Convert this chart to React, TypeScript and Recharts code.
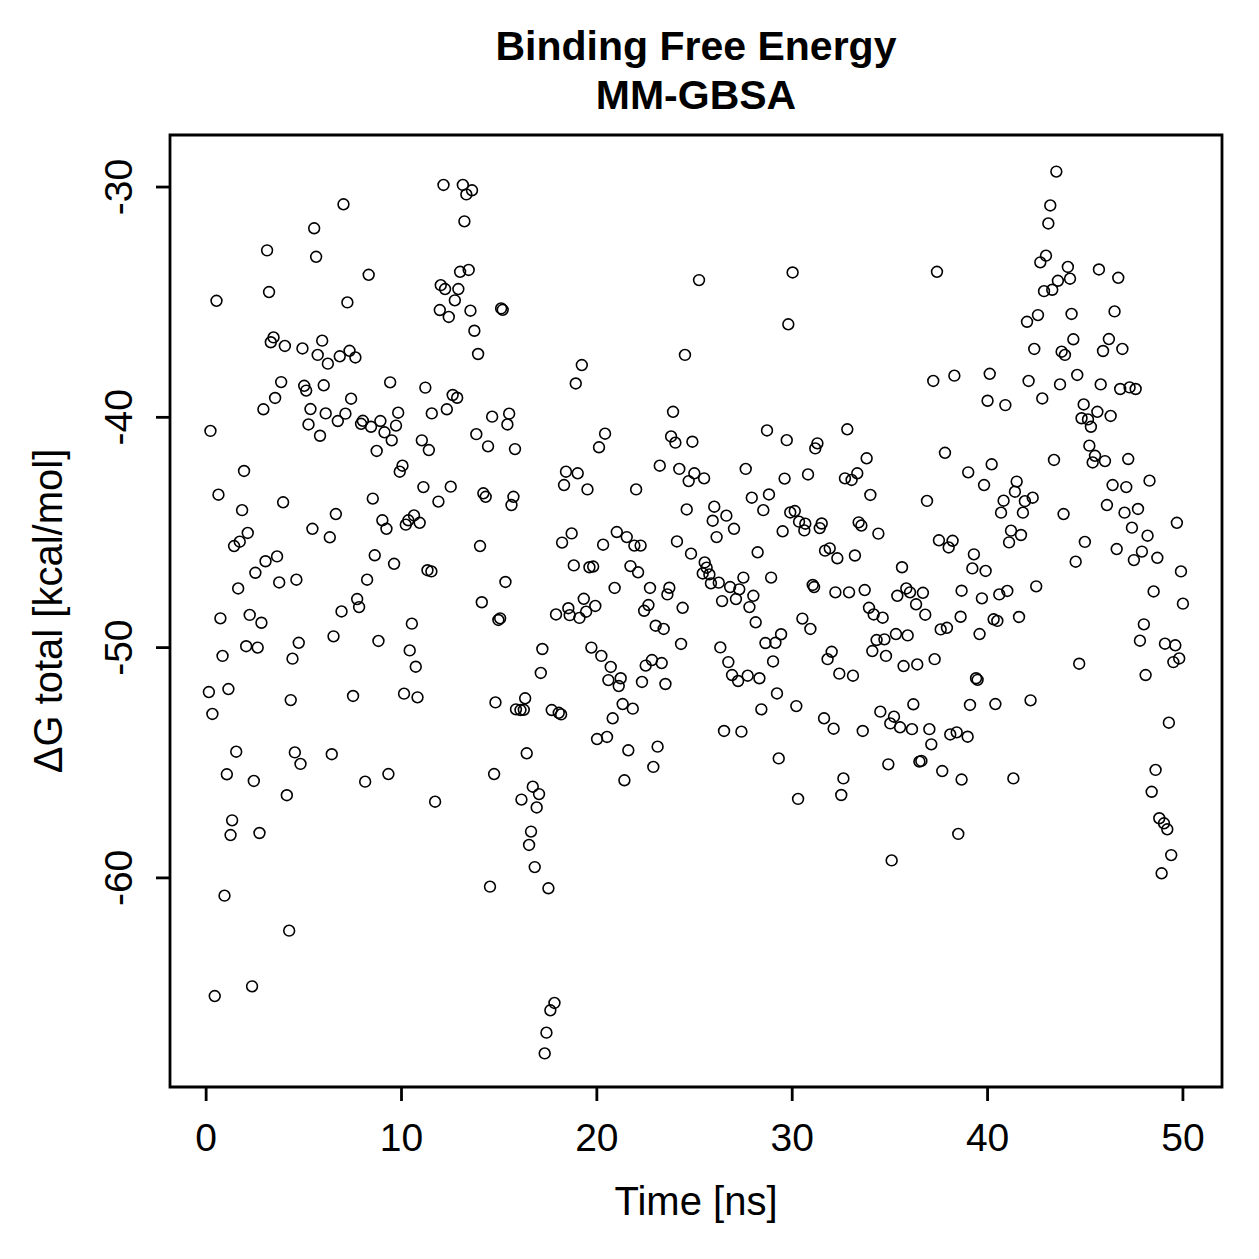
import { ScatterChart, Scatter, XAxis, YAxis, ReferenceArea } from 'recharts'

// [time (ns), ΔG total (kcal/mol)] per MD snapshot, grouped by time span
const run0to12ns: [number, number][] = [
  [7.03, -30.75], [5.53, -31.79], [3.12, -32.75], [5.63, -33.03], [8.32, -33.81], [0.53, -34.94], [3.22, -34.56], [7.23, -35.01],
  [3.45, -36.53], [3.31, -36.74], [4.03, -36.9], [4.93, -37.01], [5.94, -36.67], [5.71, -37.29], [6.23, -37.67], [6.84, -37.35],
  [7.34, -37.11], [7.64, -37.4], [3.84, -38.47], [5.02, -38.63], [5.12, -38.84], [6.02, -38.61], [9.42, -38.48], [11.22, -38.71],
  [3.53, -39.16], [2.93, -39.65], [7.42, -39.19], [5.34, -39.64], [6.12, -39.83], [7.13, -39.84], [9.83, -39.8], [6.74, -40.16],
  [8.02, -40.15], [7.93, -40.28], [8.44, -40.41], [8.92, -40.16], [9.72, -40.36], [9.13, -40.65], [9.5, -41.0], [5.24, -40.31],
  [5.83, -40.8], [0.22, -40.59], [11.04, -41.0], [8.73, -41.46], [11.4, -41.42], [11.55, -39.83],
  [1.94, -42.33], [0.63, -43.36], [3.94, -43.69], [1.84, -44.03], [2.13, -45.02], [1.72, -45.4], [1.43, -45.59], [3.04, -46.25],
  [3.63, -46.04], [2.52, -46.75], [1.64, -47.43], [3.74, -47.17], [4.62, -47.05], [0.73, -48.73], [2.23, -48.58], [2.83, -48.92],
  [2.05, -49.94], [2.64, -50.0], [0.84, -50.36], [4.74, -49.79], [4.42, -50.48], [0.14, -51.93], [1.14, -51.8], [0.32, -52.88],
  [4.33, -52.28], [1.54, -54.52], [4.54, -54.55], [4.83, -55.05], [6.43, -54.63], [1.06, -55.5],
  [10.05, -42.1], [9.91, -42.36], [11.12, -43.03], [8.53, -43.53], [9.02, -44.47], [9.23, -44.84], [5.44, -44.84], [6.64, -44.2],
  [6.33, -45.21], [10.64, -44.26], [10.35, -44.47], [10.22, -44.66], [10.93, -44.58], [8.63, -45.99], [9.62, -46.36], [8.24, -47.05],
  [11.33, -46.64], [11.53, -46.69], [7.73, -47.89], [7.83, -48.24], [6.93, -48.43], [10.53, -48.96], [6.52, -49.51], [8.82, -49.71],
  [10.42, -50.12], [10.73, -50.83], [7.52, -52.1], [10.13, -52.0], [10.82, -52.16], [9.33, -55.49],
  [2.44, -55.79], [4.13, -56.41], [1.33, -57.5], [1.25, -58.14], [2.73, -58.05], [0.94, -60.77], [4.25, -62.29], [0.44, -65.13],
  [2.35, -64.71], [8.14, -55.82], [11.72, -56.69],
]

const run12to25ns: [number, number][] = [
  [12.15, -29.91], [13.14, -29.91], [13.61, -30.14], [13.32, -30.32], [13.22, -31.49], [13.0, -33.68], [13.44, -33.6], [12.01, -34.26],
  [12.23, -34.43], [12.91, -34.43], [12.73, -34.92], [11.96, -35.34], [12.42, -35.64], [13.53, -35.37], [15.1, -35.27], [15.18, -35.33],
  [13.73, -36.24], [13.92, -37.25], [19.23, -37.73], [18.92, -38.53], [24.51, -37.29], [25.23, -34.04], [12.62, -39.03], [12.85, -39.15],
  [12.32, -39.65], [14.64, -39.97], [15.51, -39.84], [15.42, -40.31], [13.83, -40.73], [14.43, -41.26], [15.81, -41.38], [20.42, -40.71],
  [20.11, -41.3], [23.9, -39.76], [23.8, -40.83], [24.02, -41.1], [24.89, -41.06],
  [12.52, -43.01], [11.89, -43.66], [14.19, -43.3], [14.31, -43.45], [15.73, -43.45], [15.63, -43.81], [18.42, -42.36], [19.02, -42.43],
  [18.32, -42.94], [19.52, -43.13], [22.01, -43.13], [23.22, -42.1], [24.22, -42.24], [24.99, -42.43], [24.7, -42.77], [24.6, -44.0],
  [14.02, -45.59], [18.71, -45.04], [18.22, -45.44], [20.32, -45.53], [21.02, -44.98], [21.53, -45.2], [21.92, -45.57], [22.24, -45.57],
  [18.82, -46.43], [19.62, -46.51], [19.81, -46.48], [21.72, -46.46], [22.11, -46.73], [24.1, -45.39], [24.82, -45.92], [15.32, -47.15],
  [14.11, -48.03], [14.96, -48.8], [15.05, -48.73], [20.91, -47.41], [22.72, -47.41], [23.71, -47.4], [23.61, -47.69], [19.33, -47.88],
  [19.92, -48.19], [18.54, -48.29], [19.45, -48.44], [17.91, -48.56], [18.61, -48.59], [19.11, -48.71], [22.64, -48.15], [22.42, -48.4],
  [24.39, -48.27], [23.01, -49.05], [23.42, -49.19], [24.31, -49.84], [17.21, -50.06], [17.13, -51.1], [19.72, -50.0], [20.23, -50.36],
  [20.71, -50.84], [20.59, -51.41], [21.22, -51.33], [21.12, -51.67], [22.82, -50.54], [22.5, -50.78], [23.32, -50.67], [22.31, -51.49],
  [23.51, -51.58], [14.81, -52.38], [16.33, -52.2], [15.86, -52.68], [16.09, -52.71], [16.26, -52.7], [17.69, -52.71], [18.05, -52.83],
  [18.17, -52.9], [21.32, -52.45], [21.84, -52.65], [20.81, -53.07], [20.01, -53.97], [20.52, -53.88], [21.61, -54.46], [23.11, -54.3],
  [22.89, -55.18], [16.41, -54.59], [14.74, -55.49],
  [21.41, -55.76], [16.72, -56.04], [17.04, -56.36], [16.14, -56.6], [16.92, -56.94], [16.63, -57.99], [16.53, -58.57], [16.82, -59.53],
  [14.53, -60.38], [17.52, -60.45], [17.83, -65.43], [17.62, -65.75], [17.42, -66.72], [17.33, -67.62],
]

const run25to39ns: [number, number][] = [
  [30.02, -33.71], [37.41, -33.68], [29.8, -35.96], [37.22, -38.42], [38.3, -38.19], [28.71, -40.57], [29.72, -40.99], [31.29, -41.13],
  [31.18, -41.35], [32.82, -40.52], [37.82, -41.54],
  [33.81, -41.78], [25.49, -42.65], [27.62, -42.24], [29.61, -42.66], [30.81, -42.48], [32.7, -42.65], [33.04, -42.72], [33.33, -42.43],
  [34.0, -43.37], [36.9, -43.63], [27.93, -43.49], [28.81, -43.35], [28.52, -44.03], [26.01, -43.88], [26.63, -44.27], [25.93, -44.49],
  [27.02, -44.84], [26.13, -45.2], [29.9, -44.13], [30.13, -44.07], [30.35, -44.53], [30.67, -44.62], [30.62, -44.91], [31.51, -44.61],
  [31.41, -44.81], [29.51, -44.95], [33.4, -44.56], [33.54, -44.7], [34.41, -45.05], [37.51, -45.34], [38.21, -45.36], [38.01, -45.65],
  [28.23, -45.86], [31.68, -45.79], [31.92, -45.69], [32.31, -46.12], [33.21, -46.0], [35.62, -46.51], [25.52, -46.3], [25.62, -46.53],
  [25.42, -46.78], [25.76, -46.82], [25.84, -47.21], [26.24, -47.18], [26.82, -47.37], [27.5, -46.96], [27.29, -47.47], [28.01, -47.75],
  [27.12, -47.89], [26.41, -47.98], [27.81, -48.24], [28.92, -46.96], [31.05, -47.28], [31.12, -47.37], [32.21, -47.6], [32.91, -47.6],
  [33.71, -47.5], [35.38, -47.75], [35.84, -47.43], [36.03, -47.6], [36.69, -47.62], [36.34, -48.12], [36.81, -48.57], [38.67, -47.53],
  [33.93, -48.27], [34.17, -48.56], [34.63, -48.7], [28.13, -48.9], [30.52, -48.74], [30.93, -49.19], [38.62, -48.66], [37.6, -49.21],
  [37.92, -49.14], [35.31, -49.41], [35.91, -49.47], [34.32, -49.67], [34.72, -49.64], [29.43, -49.42], [29.14, -49.79], [28.63, -49.8],
  [26.32, -49.99], [34.1, -50.15], [34.8, -50.36], [32.02, -50.18], [31.81, -50.5], [26.73, -50.63], [29.02, -50.6], [35.7, -50.8],
  [36.4, -50.73], [37.29, -50.5], [26.92, -51.19], [27.23, -51.45], [27.72, -51.22], [28.32, -51.33], [32.41, -51.13], [33.11, -51.22],
  [29.22, -51.99], [28.42, -52.68], [30.21, -52.54], [36.2, -52.46], [34.51, -52.78], [35.21, -53.0], [35.02, -53.29], [35.52, -53.46],
  [36.13, -53.54], [31.63, -53.07], [32.12, -53.52], [33.61, -53.62], [37.02, -53.54], [37.12, -54.2], [38.09, -53.77], [38.42, -53.68],
  [26.51, -53.62], [27.4, -53.65], [29.31, -54.81], [34.92, -55.07], [36.51, -54.95], [36.61, -54.92], [37.68, -55.36],
  [32.62, -55.68], [32.51, -56.4], [30.3, -56.57], [38.67, -55.73], [38.5, -58.09], [35.09, -59.24],
]

const run39to50ns: [number, number][] = [
  [43.52, -29.33], [43.21, -30.8], [43.11, -31.58], [42.99, -32.98], [42.7, -33.27], [44.11, -33.47], [44.22, -33.98], [43.6, -34.07],
  [43.31, -34.46], [42.89, -34.52], [45.7, -33.58], [46.69, -33.94], [42.58, -35.56], [42.02, -35.85], [44.3, -35.51], [46.5, -35.4],
  [44.39, -36.61], [42.39, -37.03], [43.79, -37.15], [43.96, -37.29], [46.21, -36.6], [45.91, -37.12], [46.9, -37.03], [40.11, -38.11],
  [42.1, -38.42], [43.71, -38.57], [44.59, -38.16], [45.79, -38.57], [46.79, -38.77], [47.27, -38.7], [47.58, -38.77], [40.0, -39.28],
  [40.91, -39.47], [42.8, -39.18], [44.92, -39.44], [45.62, -39.76], [46.3, -39.94], [44.81, -40.04], [45.14, -40.09], [45.29, -40.41],
  [45.21, -41.23],
  [45.5, -41.67], [45.38, -41.96], [46.01, -41.9], [47.2, -41.81], [43.4, -41.85], [40.21, -42.04], [39.01, -42.39], [39.82, -42.94],
  [41.49, -42.79], [41.4, -43.23], [40.82, -43.62], [41.91, -43.64], [42.31, -43.49], [40.69, -44.14], [41.81, -44.14], [41.2, -44.92],
  [41.71, -45.11], [41.1, -45.43], [43.89, -44.2], [44.98, -45.41], [44.51, -46.27], [46.4, -42.94], [47.1, -43.03], [48.29, -42.75],
  [46.11, -43.81], [47.01, -44.14], [47.7, -43.98], [47.39, -44.79], [48.19, -45.14], [46.61, -45.72], [47.9, -45.83], [47.49, -46.2],
  [48.69, -46.1], [49.69, -44.58], [49.9, -46.69], [39.3, -45.95], [39.22, -46.56], [39.9, -46.67], [39.71, -47.86], [40.6, -47.69],
  [41.01, -47.54], [42.49, -47.34], [40.31, -48.77], [40.5, -48.84], [41.61, -48.67], [39.59, -49.41], [48.5, -47.56], [50.0, -48.09],
  [48.0, -48.99], [47.8, -49.7], [49.08, -49.83], [49.61, -49.9], [49.81, -50.47], [49.51, -50.63], [44.69, -50.7], [48.09, -51.19],
  [39.41, -51.33], [39.49, -51.4], [39.1, -52.49], [40.4, -52.45], [42.2, -52.29], [49.28, -53.26], [38.98, -53.87], [48.6, -55.31],
  [41.32, -55.68], [48.4, -56.26], [48.79, -57.41], [49.03, -57.63], [49.2, -57.89], [49.4, -59.01], [48.91, -59.8],
]

const timeTicks = [0, 10, 20, 30, 40, 50]
const energyTicks = [-60, -50, -40, -30]
const titleLines = ['Binding Free Energy', 'MM-GBSA']
const xLabel = 'Time [ns]'
const yLabel = 'ΔG total [kcal/mol]'

const X_DOMAIN: [number, number] = [-1.85, 52]
const Y_DOMAIN: [number, number] = [-69.08, -27.74]

const FONT = '"Liberation Sans", Arial, Helvetica, sans-serif'
const LINE = 2.8

const points = [...run0to12ns, ...run12to25ns, ...run25to39ns, ...run39to50ns].map(([t, dg]) => ({ t, dg }))

function OpenCircle({ cx, cy }: any) {
  if (cx == null || cy == null) return null
  return <circle cx={cx} cy={cy} r={5.4} fill="none" stroke="#000" strokeWidth={1.6} />
}

// R-style y labels, parallel to the axis
function RotatedTick({ x, y, payload }: any) {
  return (
    <text x={x} y={y} transform={`rotate(-90, ${x}, ${y})`} textAnchor="middle" fontSize={39} fontFamily={FONT} fill="#000">
      {payload.value}
    </text>
  )
}

export default function App() {
  return (
    <div style={{ position: 'absolute', left: 0, top: 0, width: 1259, height: 1259, background: '#fff' }}>
      <ScatterChart width={1259} height={1259} margin={{ top: 135, right: 37, bottom: 112, left: 110 }}>
        <XAxis
          type="number"
          dataKey="t"
          domain={X_DOMAIN}
          ticks={timeTicks}
          interval={0}
          allowDataOverflow
          height={60}
          axisLine={false}
          tickSize={14}
          tickMargin={22}
          tickLine={{ stroke: '#000', strokeWidth: LINE }}
          tick={{ fill: '#000', fontSize: 39, fontFamily: FONT }}
          label={{
            content: ({ viewBox }: any) => (
              <text x={viewBox.x + viewBox.width / 2} y={viewBox.y + 128} textAnchor="middle" fontSize={40} fontFamily={FONT} fill="#000">
                {xLabel}
              </text>
            ),
          }}
        />
        <YAxis
          type="number"
          dataKey="dg"
          domain={Y_DOMAIN}
          ticks={energyTicks}
          interval={0}
          allowDataOverflow
          width={60}
          axisLine={false}
          tickSize={14}
          tickMargin={24}
          tickLine={{ stroke: '#000', strokeWidth: LINE }}
          tick={<RotatedTick />}
          label={{
            content: ({ viewBox }: any) => {
              const x = viewBox.x - 48
              const y = viewBox.y + viewBox.height / 2
              return (
                <text x={x} y={y} transform={`rotate(-90, ${x}, ${y})`} textAnchor="middle" fontSize={40} fontFamily={FONT} fill="#000">
                  {yLabel}
                </text>
              )
            },
          }}
        />
        <Scatter data={points} shape={(p: any) => <OpenCircle {...p} />} isAnimationActive={false} />
        <ReferenceArea
          x1={X_DOMAIN[0]}
          x2={X_DOMAIN[1]}
          y1={Y_DOMAIN[0]}
          y2={Y_DOMAIN[1]}
          ifOverflow="visible"
          fill="none"
          stroke="#000"
          strokeWidth={LINE}
        />
      </ScatterChart>
      <svg width={1259} height={140} style={{ position: 'absolute', left: 0, top: 0, pointerEvents: 'none' }}>
        {titleLines.map((line, i) => (
          <text key={line} x={696} y={60 + i * 49} textAnchor="middle" fontSize={41} fontWeight="bold" fontFamily={FONT} fill="#000">
            {line}
          </text>
        ))}
      </svg>
    </div>
  )
}
